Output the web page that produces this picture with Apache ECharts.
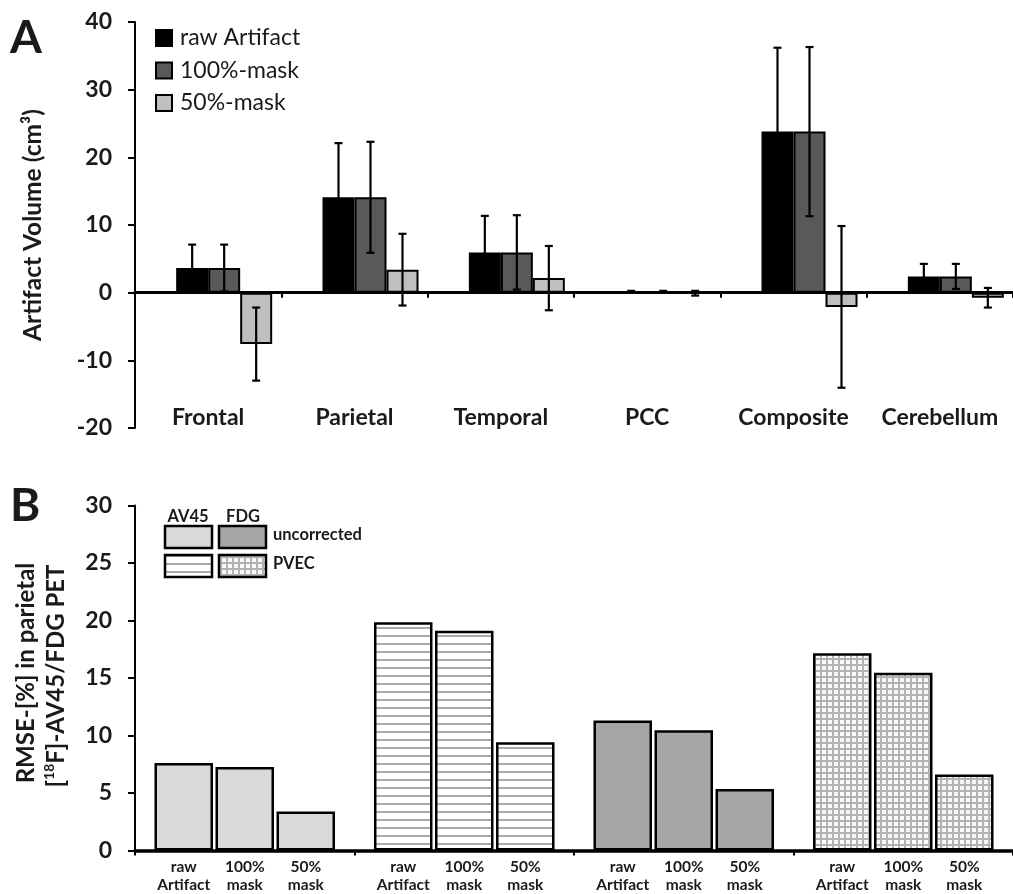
<!DOCTYPE html>
<html><head><meta charset="utf-8">
<script src="https://cdn.jsdelivr.net/npm/echarts@6/dist/echarts.min.js"></script>
<style>html,body{margin:0;padding:0;background:#fff}#c{width:1013px;height:894px}</style>
</head><body><div id="c"></div>
<script>
// ---------- Panel A data ----------
const regions = ['Frontal', 'Parietal', 'Temporal', 'PCC', 'Composite', 'Cerebellum'];
const seriesNamesA = ['raw Artifact', '100%-mask', '50%-mask'];
const rawMean  = [3.65, 14.1, 5.95, 0.12, 23.8, 2.4];
const rawSD    = [3.45, 8.0, 5.4, 0.15, 12.4, 1.85];
const m100Mean = [3.65, 14.1, 5.95, 0.12, 23.8, 2.4];
const m100SD   = [3.45, 8.2, 5.5, 0.15, 12.5, 1.85];
const m50Mean  = [-7.6, 3.4, 2.15, -0.08, -2.1, -0.75];
const m50SD    = [5.4, 5.3, 4.75, 0.35, 11.95, 1.45];
const yAxisA = { min: -20, max: 40, step: 10 };
const yTitleA = 'Artifact Volume (cm³)';

// ---------- Panel B data ----------
const groupsB = ['AV45 uncorrected', 'AV45 PVEC', 'FDG uncorrected', 'FDG PVEC'];
const barLabelsB = ['raw\nArtifact', '100%\nmask', '50%\nmask'];
const rawB  = [7.6, 19.85, 11.3, 17.15];
const m100B = [7.26, 19.1, 10.45, 15.45];
const m50B  = [3.39, 9.41, 5.34, 6.6];
const yAxisB = { min: 0, max: 30, step: 5 };
const yTitleB1 = 'RMSE-[%] in parietal';
const yTitleB2 = '{t|[}{s|18}{t|F]-AV45/FDG PET}';
const legendHeadB = ['AV45', 'FDG'];
const legendRowB = ['uncorrected', 'PVEC'];

// ---------- styling ----------
const FONT = 'Lato';
const TXT = '#1a1a1a';

function makeStripes() {
  const c = document.createElement('canvas'); c.width = 8; c.height = 8;
  const g = c.getContext('2d');
  g.fillStyle = '#ffffff'; g.fillRect(0, 0, 8, 8);
  g.fillStyle = '#a9a9a9'; g.fillRect(0, 3, 8, 2);
  return c;
}
function makeGrid() {
  const c = document.createElement('canvas'); c.width = 6; c.height = 6;
  const g = c.getContext('2d');
  g.fillStyle = '#b3b3b3'; g.fillRect(0, 0, 6, 6);
  g.fillStyle = '#f7f7f7'; g.fillRect(0, 0, 4, 4);
  return c;
}
const stripeFill = { image: makeStripes(), repeat: 'repeat' };
const gridFill = { image: makeGrid(), repeat: 'repeat' };
const fillsB = ['#d9d9d9', stripeFill, '#a6a6a6', gridFill];

const chart = echarts.init(document.getElementById('c'), null, { renderer: 'canvas' });

function errSeries(means, sds, offset) {
  return {
    type: 'custom', xAxisIndex: 0, yAxisIndex: 0, z: 5, silent: true,
    data: means.map((m, i) => [i, m, sds[i]]),
    encode: { x: 0, y: 1 },
    renderItem(params, api) {
      const i = api.value(0), m = api.value(1), s = api.value(2);
      const p1 = api.coord([i, m + s]), p2 = api.coord([i, m - s]);
      const x = p1[0] + offset, cw = 4;
      const st = { stroke: '#000', lineWidth: 2.2 };
      return { type: 'group', children: [
        { type: 'line', shape: { x1: x, y1: p1[1], x2: x, y2: p2[1] }, style: st },
        { type: 'line', shape: { x1: x - cw, y1: p1[1], x2: x + cw, y2: p1[1] }, style: st },
        { type: 'line', shape: { x1: x - cw, y1: p2[1], x2: x + cw, y2: p2[1] }, style: st }
      ] };
    }
  };
}

function barA(name, data, color) {
  return { type: 'bar', name, data, xAxisIndex: 0, yAxisIndex: 0, barWidth: 32, barGap: '0%',
    itemStyle: { color, borderColor: '#000', borderWidth: 2 }, z: 2 };
}

const seriesB = [rawB, m100B, m50B].map((vals, k) => ({
  type: 'bar', name: 'B' + k, xAxisIndex: 1, yAxisIndex: 1, barWidth: 58.5, barGap: '4.3%',
  data: vals.map((v, i) => ({ value: v, itemStyle: { color: fillsB[i] } })),
  itemStyle: { borderColor: '#000', borderWidth: 2.5 },
  label: { show: true, position: 'bottom', distance: 7, formatter: barLabelsB[k],
    fontFamily: FONT, fontWeight: 'bold', fontSize: 15.5, lineHeight: 18, color: TXT, align: 'center' }
}));

const yLabel = { fontFamily: FONT, fontWeight: 'bold', fontSize: 23, color: TXT, margin: 23 };

chart.setOption({
  animation: false,
  backgroundColor: '#fff',
  grid: [
    { left: 135, top: 22, right: -6, height: 406 },
    { left: 135, top: 505.5, right: -9, height: 345 }
  ],
  legend: {
    data: seriesNamesA, orient: 'vertical', left: 150, top: 21, itemWidth: 16, itemHeight: 16,
    itemGap: 8.5, icon: 'rect', selectedMode: false,
    textStyle: { fontFamily: FONT, fontSize: 23, color: TXT, lineHeight: 24, padding: [0, 0, 0, 3] }
  },
  xAxis: [
    { type: 'category', gridIndex: 0, data: regions,
      axisLine: { onZero: true, lineStyle: { color: '#000', width: 3 } },
      axisTick: { show: true, length: 5, lineStyle: { color: '#000', width: 2 } },
      axisLabel: { fontFamily: FONT, fontWeight: 'bold', fontSize: 23, color: TXT, margin: -22, interval: 0 },
      splitLine: { show: false } },
    { type: 'category', gridIndex: 1, data: groupsB,
      axisLine: { lineStyle: { color: '#000', width: 3.5 } },
      axisTick: { show: true, length: 5, lineStyle: { color: '#000', width: 2 } },
      axisLabel: { show: false }, splitLine: { show: false } }
  ],
  yAxis: [
    { type: 'value', gridIndex: 0, min: yAxisA.min, max: yAxisA.max, interval: yAxisA.step,
      name: yTitleA, nameLocation: 'middle', nameGap: 89, nameRotate: 90,
      nameTextStyle: { fontFamily: FONT, fontWeight: 'bold', fontSize: 24.5, color: TXT },
      axisLine: { show: true, lineStyle: { color: '#000', width: 2 } },
      axisTick: { show: true, length: 7, lineStyle: { color: '#000', width: 2 } },
      axisLabel: yLabel, splitLine: { show: false } },
    { type: 'value', gridIndex: 1, min: yAxisB.min, max: yAxisB.max, interval: yAxisB.step,
      axisLine: { show: true, lineStyle: { color: '#000', width: 2 } },
      axisTick: { show: true, length: 7, lineStyle: { color: '#000', width: 2 } },
      axisLabel: yLabel, splitLine: { show: false } }
  ],
  graphic: [
    { type: 'text', x: 10, y: 38, style: { text: 'A', font: 'bold 46px Lato', fill: TXT, verticalAlign: 'middle' } },
    { type: 'text', x: 10, y: 506, style: { text: 'B', font: 'bold 46px Lato', fill: TXT, verticalAlign: 'middle' } },
    { type: 'text', x: 26, y: 673, rotation: Math.PI / 2,
      style: { text: yTitleB1, font: 'bold 24px Lato', fill: TXT, align: 'center', verticalAlign: 'middle' } },
    { type: 'text', x: 56, y: 676, rotation: Math.PI / 2,
      style: { text: yTitleB2, align: 'center', verticalAlign: 'middle', rich: {
        t: { fontFamily: FONT, fontWeight: 'bold', fontSize: 24, fill: TXT, lineHeight: 28 },
        s: { fontFamily: FONT, fontWeight: 'bold', fontSize: 14, fill: TXT, lineHeight: 28, verticalAlign: 'top', padding: [0, 0, 9, 0] }
      } } },
    { type: 'text', x: 188, y: 517, style: { text: legendHeadB[0], font: 'bold 16.5px Lato', fill: TXT, align: 'center', verticalAlign: 'middle' } },
    { type: 'text', x: 243, y: 517, style: { text: legendHeadB[1], font: 'bold 16.5px Lato', fill: TXT, align: 'center', verticalAlign: 'middle' } },
    { type: 'rect', shape: { x: 165, y: 526, width: 47, height: 22 }, style: { fill: fillsB[0], stroke: '#000', lineWidth: 2.5 } },
    { type: 'rect', shape: { x: 219, y: 526, width: 47, height: 22 }, style: { fill: fillsB[2], stroke: '#000', lineWidth: 2.5 } },
    { type: 'rect', shape: { x: 165, y: 555, width: 47, height: 22 }, style: { fill: fillsB[1], stroke: '#000', lineWidth: 2.5 } },
    { type: 'rect', shape: { x: 219, y: 555, width: 47, height: 22 }, style: { fill: fillsB[3], stroke: '#000', lineWidth: 2.5 } },
    { type: 'text', x: 273, y: 535, style: { text: legendRowB[0], font: 'bold 16.5px Lato', fill: TXT, verticalAlign: 'middle' } },
    { type: 'text', x: 273, y: 564, style: { text: legendRowB[1], font: 'bold 16.5px Lato', fill: TXT, verticalAlign: 'middle' } }
  ],
  series: [
    { type: 'bar', name: '_slot', data: regions.map(() => '-'), xAxisIndex: 0, yAxisIndex: 0, barWidth: 32, barGap: '0%' },
    barA(seriesNamesA[0], rawMean, '#000000'),
    barA(seriesNamesA[1], m100Mean, '#595959'),
    barA(seriesNamesA[2], m50Mean, '#bfbfbf'),
    errSeries(rawMean, rawSD, -16),
    errSeries(m100Mean, m100SD, 16),
    errSeries(m50Mean, m50SD, 48),
    ...seriesB
  ]
});
</script></body></html>
